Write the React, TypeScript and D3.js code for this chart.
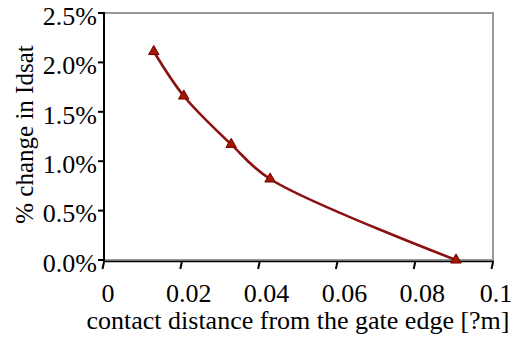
import React from "react";
import * as d3 from "d3";

const xValues = [0.0128, 0.0205, 0.0327, 0.0427, 0.0905];
const yValues = [0.0211, 0.0166, 0.0117, 0.0082, 0.0];
const xTicks = [0, 0.02, 0.04, 0.06, 0.08, 0.1];
const yTicks = [0, 0.005, 0.01, 0.015, 0.02, 0.025];
const xTitle = "contact distance from the gate edge [?m]";
const yTitle = "% change in Idsat";

export default function App() {
  const W = 515, H = 338;
  const L = 104, R = 493, T = 13, B = 260;
  const x = d3.scaleLinear().domain([0, 0.1]).range([L, R]);
  const y = d3.scaleLinear().domain([0, 0.025]).range([B, T]);
  const pts = xValues.map((v, i) => [x(v), y(yValues[i])] as [number, number]);
  const line = d3.line().curve(d3.curveCatmullRom.alpha(0.5))(pts) || "";
  const tri = d3.symbol().type(d3.symbolTriangle).size(48)() || "";
  const font = "Liberation Serif, Times New Roman, serif";
  const ts = { fontFamily: font, fontSize: "26px" };
  const xs = { fontFamily: font, fontSize: "25px" };
  const xLabel = (t: number) => (t === 0 ? "0" : t === 0.1 ? "0.1" : d3.format(".2f")(t));
  return (
    <svg width={W} height={H} style={{ position: "absolute", left: 0, top: 0, background: "#fff" }}>
      <rect x={L} y={T} width={R - L} height={B - T} fill="none" stroke="#999" strokeWidth={2} />
      <line x1={L - 1} x2={R + 1} y1={B + 1.5} y2={B + 1.5} stroke="#000" strokeWidth={1.5} />
      <line x1={L} x2={L} y1={T - 1} y2={B + 2} stroke="#000" strokeWidth={2} />
      {yTicks.map((t) => (
        <g key={"y" + t}>
          <line x1={L - 6} x2={L} y1={y(t)} y2={y(t)} stroke="#000" strokeWidth={2} />
          <text x={L - 7} y={y(t)} dy="0.45em" textAnchor="end" style={ts} fill="#000">
            {d3.format(".1%")(t)}
          </text>
        </g>
      ))}
      {xTicks.map((t) => {
        const lab = xLabel(t);
        const dx = lab.length === 4 ? 7 : lab.length === 1 ? 4 : 3;
        return (
          <g key={"x" + t}>
            <line x1={x(t)} x2={x(t) - 1.5} y1={B + 2} y2={B + 9} stroke="#000" strokeWidth={2} />
            <text x={x(t) + dx} y={302} textAnchor="middle" style={ts} fill="#000">
              {lab}
            </text>
          </g>
        );
      })}
      <path d={line} fill="none" stroke="#8B1010" strokeWidth={2.6} strokeLinejoin="round" />
      {pts.map((p, i) => (
        <path key={i} d={tri} transform={`translate(${p[0]},${p[1]})`} fill="#A01800" stroke="#7A0000" strokeWidth={1} />
      ))}
      <text x={298} y={329} textAnchor="middle" style={ts} fill="#000">{xTitle}</text>
      <text transform={`translate(33,134.5) rotate(-90)`} textAnchor="middle" style={xs} fill="#000">{yTitle}</text>
    </svg>
  );
}
